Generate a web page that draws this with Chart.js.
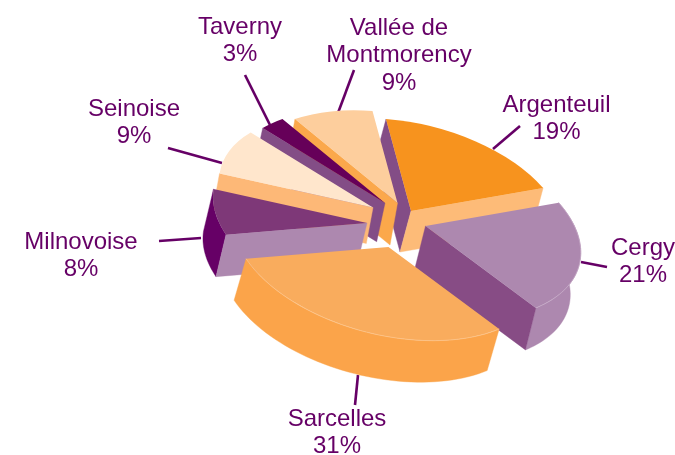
<!DOCTYPE html>
<html><head><meta charset="utf-8">
<style>html,body{margin:0;padding:0;background:#fff}canvas{display:block}</style>
<script src="https://cdn.jsdelivr.net/npm/chart.js@4/dist/chart.umd.min.js"></script>
</head><body>
<canvas id="c" width="675" height="455"></canvas>
<script>
// --- data ---
const categories = ["Argenteuil","Cergy","Sarcelles","Milnovoise","Seinoise","Taverny","Vallée de Montmorency"];
const shares = [19,21,31,8,9,3,9];
// --- face colours ---
const topColors   = ["#F7931E","#AD88AF","#F9AC5D","#7E3878","#FFE6CC","#660059","#FDCE9D"];
const startWalls  = ["#834D86",null,null,"#AD88AF","#FDB877","#834D86","#FBA84B"];
const endWalls    = ["#FDBB78","#874C85",null,null,null,null,null];
const outerWalls  = [null,"#AD88AF","#FBA44A","#660066",null,null,null];
const seamColors  = [null,"#C6ABC8","#FCC48A",null,null,null,null];
// --- layout: explode shift, size and extrusion of each slice, paint order, labels ---
const explodeX = [19,33.5,-3.5,-25,-19,-7,5.5];
const explodeY = [-14,1,22,-2,-17.5,-22,-22];
const sizeScale = [1,1.008,1.01,1,1,1,1];
const depthX = [-11,-10.5,-12,-10,-6.7,-8.3,-7.5];
const depthY = [41,42,41.5,42,36,38.7,42];
const paintOrder = [0,6,5,4,3,1,2];
const pieCenter = [392,225];
const labelLines = [["Argenteuil"],["Cergy"],["Sarcelles"],["Milnovoise"],["Seinoise"],["Taverny"],["Vallée de","Montmorency"]];
const labelX = [556.5,643,337,81,134,240,399];
const labelY = [112,255,426,249,116,34,35];
const leaderA = [[520,126],[607,267],[358,375],[159,241],[168,148],[245,75],[354,70]];
const leaderB = [[493,149],[581,262],[355,405],[201,238],[222,163],[270,125],[338,113]];
const ink = "#660066";
const axisX = [152,11.6], axisY = [25,92];

const pie3d = {
  id:'pie3d',
  beforeDatasetsDraw(chart){
    const ctx = chart.ctx, meta = chart.getDatasetMeta(0);
    ctx.save();
    ctx.strokeStyle = ink; ctx.lineWidth = 2.6;
    leaderA.forEach((a,i)=>{ctx.beginPath();ctx.moveTo(a[0],a[1]);ctx.lineTo(leaderB[i][0],leaderB[i][1]);ctx.stroke();});
    ctx.restore();
    paintOrder.forEach(i=>{
      const arc = meta.data[i];
      const R = arc.outerRadius/sizeScale[i], ox = arc.x, oy = arc.y;
      const A=axisX[0]/R,B=axisX[1]/R,C=axisY[0]/R,D=axisY[1]/R;
      const tx = pieCenter[0]+explodeX[i], ty = pieCenter[1]+explodeY[i];
      const at = (ang)=>{const r=arc.outerRadius,x=Math.cos(ang)*r,y=Math.sin(ang)*r;return [tx+A*x+C*y,ty+B*x+D*y];};
      const low = p=>[p[0]+depthX[i],p[1]+depthY[i]];
      const poly=(pts,col)=>{ctx.beginPath();pts.forEach((p,k)=>k?ctx.lineTo(p[0],p[1]):ctx.moveTo(p[0],p[1]));ctx.closePath();ctx.fillStyle=col;ctx.fill();ctx.strokeStyle=col;ctx.lineWidth=0.4;ctx.stroke();};
      const apex=[tx,ty];
      const n=48,rim=[];
      for(let k=0;k<=n;k++) rim.push(at(arc.startAngle+(arc.endAngle-arc.startAngle)*k/n));
      if(outerWalls[i]) poly(rim.concat(rim.slice().reverse().map(low)),outerWalls[i]);
      if(startWalls[i]){const p=at(arc.startAngle);poly([apex,p,low(p),low(apex)],startWalls[i]);}
      if(endWalls[i]){const p=at(arc.endAngle);poly([apex,p,low(p),low(apex)],endWalls[i]);}
      ctx.save();
      ctx.translate(tx,ty);
      ctx.transform(A,B,C,D,0,0);
      ctx.translate(-ox,-oy);
      arc.draw(ctx);
      ctx.restore();
      if(seamColors[i]){
        ctx.beginPath();rim.forEach((p,k)=>k?ctx.lineTo(p[0],p[1]):ctx.moveTo(p[0],p[1]));
        ctx.strokeStyle=seamColors[i];ctx.lineWidth=0.8;ctx.stroke();
      }
    });
    return false;
  },
  afterDraw(chart){
    const ctx = chart.ctx;
    ctx.save();
    ctx.font = '24px "Liberation Sans"';
    ctx.fillStyle = ink; ctx.textAlign='center'; ctx.textBaseline='alphabetic';
    categories.forEach((c,i)=>{
      const lines = labelLines[i].concat([shares[i]+"%"]);
      lines.forEach((t,k)=>ctx.fillText(t,labelX[i],labelY[i]+k*27.3));
    });
    ctx.restore();
  }
};

new Chart(document.getElementById('c'),{
  type:'pie',
  data:{labels:categories,datasets:[{data:shares,backgroundColor:topColors,borderWidth:0}]},
  options:{responsive:false,animation:false,rotation:0,
    plugins:{legend:{display:false},tooltip:{enabled:false}}},
  plugins:[pie3d]
});
</script>
</body></html>
